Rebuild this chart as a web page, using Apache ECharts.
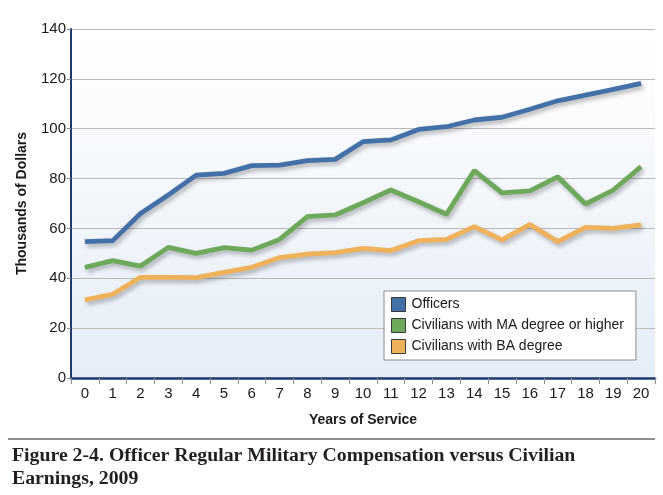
<!DOCTYPE html>
<html>
<head>
<meta charset="utf-8">
<script src="https://cdn.jsdelivr.net/npm/echarts@6/dist/echarts.min.js"></script>
<style>
html,body{margin:0;padding:0;background:#fff;}
#chart{width:663px;height:495px;}
</style>
</head>
<body>
<div id="chart"></div>
<script>
const years = ['0','1','2','3','4','5','6','7','8','9','10','11','12','13','14','15','16','17','18','19','20'];
const officers = [54.7,55.1,66,73.4,81.4,82.1,85.2,85.4,87.2,87.7,94.8,95.5,99.7,100.8,103.5,104.6,107.8,111.2,113.5,115.8,118.2];
const civMA = [44.4,47.1,44.9,52.4,50.0,52.3,51.3,55.6,64.7,65.4,70.3,75.4,70.7,65.7,83.2,74.3,75.1,80.7,69.8,75.4,84.8];
const civBA = [31.3,33.6,40.4,40.4,40.3,42.4,44.4,48.3,49.7,50.3,52.0,51.1,55.1,55.6,60.7,55.4,61.6,54.7,60.4,60.0,61.4];
const yTicks = {min:0, max:140, interval:20};
const seriesNames = ['Officers','Civilians with MA degree or higher','Civilians with BA degree'];
const captionText = 'Figure 2-4. Officer Regular Military Compensation versus Civilian\nEarnings, 2009';

const colors = ['#4470a8','#6ea85a','#efb159'];
const sans = '"Liberation Sans", Arial, sans-serif';

const chart = echarts.init(document.getElementById('chart'));
function mk(name, data, color){
  return {
    name: name, type: 'line', data: data, symbol: 'none', smooth: false,
    itemStyle: {color: color},
    lineStyle: {color: color, width: 4.8, shadowColor: 'rgba(0,0,0,0.28)', shadowBlur: 4, shadowOffsetX: 2, shadowOffsetY: 3},
    z: 3
  };
}
chart.setOption({
  animation: false,
  title: {
    text: captionText, left: 7, top: 439,
    textStyle: {fontFamily: '"Liberation Serif", "Times New Roman", serif', fontWeight: 'bold', fontSize: 19.8, lineHeight: 23, color: '#231f20'}
  },
  graphic: [{
    type: 'line', shape: {x1: 8, y1: 439, x2: 655, y2: 439},
    style: {stroke: '#231f20', lineWidth: 1.2}
  }],
  grid: {
    left: 71, right: 8, top: 29, bottom: 117, show: true, borderWidth: 0,
    backgroundColor: {type: 'linear', x: 0, y: 0, x2: 0, y2: 1, colorStops: [{offset: 0, color: '#ffffff'}, {offset: 0.15, color: '#fcfdfe'}, {offset: 1, color: '#e5edf7'}]}
  },
  legend: {
    data: seriesNames, orient: 'vertical', left: 384, top: 291,
    width: 253, padding: [6, 12, 6, 7], itemGap: 6,
    backgroundColor: '#ffffff', borderColor: '#8a8a8a', borderWidth: 1,
    icon: 'rect', itemWidth: 14, itemHeight: 14,
    itemStyle: {borderColor: '#3a3a3a', borderWidth: 1},
    textStyle: {fontFamily: sans, fontSize: 14, color: '#1a1a1a', padding: [0, 0, 0, 1]}
  },
  xAxis: {
    type: 'category', data: years, boundaryGap: true,
    name: 'Years of Service', nameLocation: 'middle', nameGap: 35,
    nameTextStyle: {fontFamily: sans, fontWeight: 'bold', fontSize: 14, color: '#1a1a1a'},
    axisLine: {lineStyle: {color: '#1c3a6b', width: 2.5}},
    axisTick: {show: true, length: 6, lineStyle: {color: '#8c8c8c'}},
    axisLabel: {fontFamily: sans, fontSize: 15, color: '#1a1a1a', margin: 8, interval: 0},
    splitLine: {show: false}
  },
  yAxis: {
    type: 'value', min: yTicks.min, max: yTicks.max, interval: yTicks.interval,
    name: 'Thousands of Dollars', nameLocation: 'middle', nameGap: 42,
    nameTextStyle: {fontFamily: sans, fontWeight: 'bold', fontSize: 14, color: '#1a1a1a'},
    axisLine: {show: true, lineStyle: {color: '#1c3a6b', width: 2}},
    axisTick: {show: true, length: 4, lineStyle: {color: '#8c8c8c'}},
    axisLabel: {fontFamily: sans, fontSize: 15, color: '#1a1a1a', margin: 5},
    splitLine: {show: true, lineStyle: {color: '#b9b9b9', width: 1}}
  },
  series: [mk(seriesNames[0], officers, colors[0]), mk(seriesNames[1], civMA, colors[1]), mk(seriesNames[2], civBA, colors[2])]
});
</script>
</body>
</html>
